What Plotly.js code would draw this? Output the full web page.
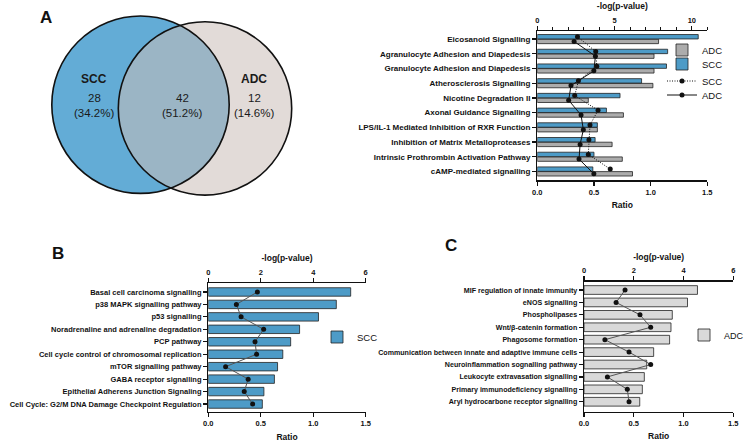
<!DOCTYPE html>
<html>
<head>
<meta charset="utf-8">
<script src="https://cdn.plot.ly/plotly-3.0.1.min.js"></script>
<style>
  html, body { margin: 0; padding: 0; background: #fff; }
  #chart { width: 747px; height: 443px; }
</style>
</head>
<body>
<div id="chart"></div>
<script>
// ---- data ----
const vennLabels = ["SCC", "ADC"];
const vennCounts = [28, 42, 12];          // SCC only, shared, ADC only
const vennPercents = ["34.2%", "51.2%", "14.6%"];

const aPathways = [
  "Eicosanoid Signalling",
  "Agranulocyte Adhesion and Diapedesis",
  "Granulocyte Adhesion and Diapedesis",
  "Atherosclerosis Signalling",
  "Nicotine Degradation II",
  "Axonal Guidance Signalling",
  "LPS/IL-1 Mediated Inhibition of RXR Function",
  "Inhibition of Matrix Metalloproteases",
  "Intrinsic Prothrombin Activation Pathway",
  "cAMP-mediated signalling"
];
const aSccRatio = [1.42, 1.15, 1.14, 0.92, 0.73, 0.61, 0.53, 0.51, 0.50, 0.49];
const aAdcRatio = [1.07, 1.03, 1.03, 1.02, 0.45, 0.76, 0.53, 0.66, 0.75, 0.84];
const aSccLogP = [2.60, 3.78, 3.85, 2.66, 2.42, 3.93, 3.41, 3.34, 3.30, 4.72];
const aAdcLogP = [2.38, 3.76, 3.66, 2.18, 2.03, 2.83, 2.98, 2.77, 2.70, 3.66];

const bPathways = [
  "Basal cell carcinoma signalling",
  "p38 MAPK signalling pathway",
  "p53 signalling",
  "Noradrenaline and adrenaline degradation",
  "PCP pathway",
  "Cell cycle control of chromosomal replication",
  "mTOR signalling pathway",
  "GABA receptor signalling",
  "Epithelial Adherens Junction Signaling",
  "Cell Cycle: G2/M DNA Damage Checkpoint Regulation"
];
const bRatio = [1.357, 1.22, 1.05, 0.87, 0.785, 0.71, 0.66, 0.63, 0.53, 0.515];
const bLogP = [1.87, 1.07, 1.25, 2.11, 1.78, 1.84, 0.66, 1.52, 1.37, 1.69];

const cPathways = [
  "MIF regulation of innate immunity",
  "eNOS signalling",
  "Phospholipases",
  "Wnt/β-catenin formation",
  "Phagosome formation",
  "Communication between innate and adaptive immune cells",
  "Neuroinflammation sognalling pathway",
  "Leukocyte extravasation signalling",
  "Primary immunodeficiency signalling",
  "Aryl hydrocarbone receptor signalling"
];
const cRatio = [1.14, 1.04, 0.887, 0.874, 0.86, 0.70, 0.63, 0.606, 0.586, 0.56];
const cLogP = [1.65, 1.29, 2.25, 2.68, 0.84, 1.81, 2.68, 0.94, 1.74, 1.81];

// ---- styling ----
const W = 747, H = 443;
const FONT = "Liberation Sans, Arial, Helvetica, sans-serif";
const INK = "#111";
const SCC_BLUE = "#4d9bc7";
const ADC_GREY = "#acacac";
const ADC_LIGHT = "#d9d9d9";

const px = x => x / W;
const py = y => 1 - y / H;
const rows = arr => arr.map((_, i) => i);

const tickFont = {family: FONT, size: 7.5, color: INK, weight: "bold"};
const titleFont = {family: FONT, size: 8.5, color: INK, weight: "bold"};

function axisBase() {
  return {
    showline: true, linecolor: INK, linewidth: 1.3,
    ticks: "outside", ticklen: 4, tickwidth: 1.2, tickcolor: INK,
    showgrid: false, zeroline: false, fixedrange: true,
    tickfont: tickFont
  };
}
function ratioAxis(domain, anchor) {
  return Object.assign(axisBase(), {
    domain: domain, anchor: anchor, range: [0, 1.5],
    tickvals: [0, 0.5, 1, 1.5], tickformat: ".1f",
    title: {text: "Ratio", font: titleFont, standoff: 6}
  });
}
function logpAxis(over, anchor, maxv, dtick, minor) {
  const ax = Object.assign(axisBase(), {
    overlaying: over, anchor: anchor, side: "top",
    range: [0, maxv], dtick: dtick, tick0: 0,
    title: {text: "-log(p-value)", font: titleFont, standoff: 4}
  });
  if (minor) ax.minor = {dtick: minor, ticks: "outside", ticklen: 3, tickwidth: 1, tickcolor: INK};
  return ax;
}
function pathAxis(domain, anchor, labels, lo, hi, size) {
  return Object.assign(axisBase(), {
    domain: domain, anchor: anchor, range: [hi, lo],
    tickvals: rows(labels), ticktext: labels,
    tickfont: Object.assign({}, tickFont, {size: size})
  });
}

// ---- traces ----
const aSccY = aPathways.map((_, i) => i - 0.16);
const aAdcY = aPathways.map((_, i) => i + 0.16);

const barLine = {color: "#222", width: 0.8};
const traces = [
  {type: "bar", orientation: "h", name: "ADC", x: aAdcRatio, y: aAdcY, width: 0.3,
   xaxis: "x", yaxis: "y", marker: {color: ADC_GREY, line: barLine}, legend: "legend"},
  {type: "bar", orientation: "h", name: "SCC", x: aSccRatio, y: aSccY, width: 0.3,
   xaxis: "x", yaxis: "y", marker: {color: SCC_BLUE, line: barLine}, legend: "legend4"},
  {type: "scatter", mode: "lines+markers", name: "SCC", x: aSccLogP, y: aSccY,
   xaxis: "x2", yaxis: "y", line: {color: INK, width: 1, dash: "1px,1.5px"},
   marker: {color: INK, size: 5}, legend: "legend5"},
  {type: "scatter", mode: "lines+markers", name: "ADC", x: aAdcLogP, y: aAdcY,
   xaxis: "x2", yaxis: "y", line: {color: INK, width: 1},
   marker: {color: INK, size: 5}, legend: "legend6"},

  {type: "bar", orientation: "h", name: "SCC", x: bRatio, y: rows(bPathways), width: 0.68,
   xaxis: "x3", yaxis: "y2", marker: {color: SCC_BLUE, line: barLine}, legend: "legend2"},
  {type: "scatter", mode: "lines+markers", x: bLogP, y: rows(bPathways), showlegend: false,
   xaxis: "x4", yaxis: "y2", line: {color: "#555", width: 1}, marker: {color: INK, size: 5}},

  {type: "bar", orientation: "h", name: "ADC", x: cRatio, y: rows(cPathways), width: 0.7,
   xaxis: "x5", yaxis: "y3", marker: {color: ADC_LIGHT, line: barLine}, legend: "legend3"},
  {type: "scatter", mode: "lines+markers", x: cLogP, y: rows(cPathways), showlegend: false,
   xaxis: "x6", yaxis: "y3", line: {color: "#555", width: 1}, marker: {color: INK, size: 5}}
];

// ---- venn ----
const leftC = {cx: 140.5, cy: 104.7, r: 88.7};
const rightC = {cx: 205, cy: 108.4, r: 86.7};
function circle(c, fill, line) {
  return {type: "circle", xref: "paper", yref: "paper",
    x0: px(c.cx - c.r), x1: px(c.cx + c.r), y0: py(c.cy + c.r), y1: py(c.cy - c.r),
    fillcolor: fill, line: line};
}
const shapes = [
  circle(leftC, "#63acd6", {width: 0}),
  circle(rightC, "rgba(202,189,184,0.545)", {width: 0}),
  circle(leftC, "rgba(0,0,0,0)", {color: INK, width: 1.6}),
  circle(rightC, "rgba(0,0,0,0)", {color: INK, width: 1.6})
];

const vennBold = {family: FONT, size: 12, color: "#1a1a1a", weight: "bold"};
const vennText = {family: FONT, size: 11.5, color: "#1a1a1a"};
function note(x, y, text, font, anchor) {
  return {xref: "paper", yref: "paper", x: px(x), y: py(y), text: text, showarrow: false,
    xanchor: anchor || "center", yanchor: "middle", font: font};
}
const letterFont = {family: FONT, size: 17, color: INK, weight: "bold"};
const annotations = [
  note(38, 18, "A", letterFont, "left"),
  note(50, 253, "B", letterFont, "left"),
  note(443, 246, "C", letterFont, "left"),
  note(94, 79, vennLabels[0], vennBold),
  note(94, 98, String(vennCounts[0]), vennText),
  note(94, 113, "(" + vennPercents[0] + ")", vennText),
  note(182, 98, String(vennCounts[1]), vennText),
  note(182, 113, "(" + vennPercents[1] + ")", vennText),
  note(254, 79, vennLabels[1], vennBold),
  note(254, 98, String(vennCounts[2]), vennText),
  note(254, 113, "(" + vennPercents[2] + ")", vennText)
];

const legFont = {family: FONT, size: 9.5, color: INK};
function leg(x, yc, size) {
  return {x: px(x), y: py(yc), xanchor: "left", yanchor: "middle",
    font: Object.assign({}, legFont, size ? {size: size} : {}),
    bgcolor: "rgba(0,0,0,0)", borderwidth: 0};
}
const layout = {
  width: W, height: H, margin: {l: 0, r: 0, t: 0, b: 0, autoexpand: false},
  paper_bgcolor: "#fff", plot_bgcolor: "rgba(0,0,0,0)",
  barmode: "overlay", hovermode: false,
  font: {family: FONT, color: INK},
  xaxis: ratioAxis([px(537.3), px(707.3)], "y"),
  xaxis2: logpAxis("x", "y", 11.0, 5, 1),
  yaxis: pathAxis([py(180.3), py(31)], "x", aPathways, -0.55, 9.6, 8),
  xaxis3: ratioAxis([px(208.3), px(365.7)], "y2"),
  xaxis4: logpAxis("x3", "y2", 6, 2),
  yaxis2: pathAxis([py(412), py(283)], "x3", bPathways, -0.72, 9.64, 7.5),
  xaxis5: ratioAxis([px(584), px(733.3)], "y3"),
  xaxis6: logpAxis("x5", "y3", 6, 2),
  yaxis3: pathAxis([py(411.7), py(281.7)], "x5", cPathways, -0.67, 9.8, 7.1),
  legend: leg(662, 50),
  legend4: leg(662, 64),
  legend5: leg(662, 81),
  legend6: leg(662, 95),
  legend2: leg(317, 337),
  legend3: leg(684, 335, 9),
  shapes: shapes,
  annotations: annotations
};

Plotly.newPlot("chart", traces, layout, {displayModeBar: false, staticPlot: true});
</script>
</body>
</html>
